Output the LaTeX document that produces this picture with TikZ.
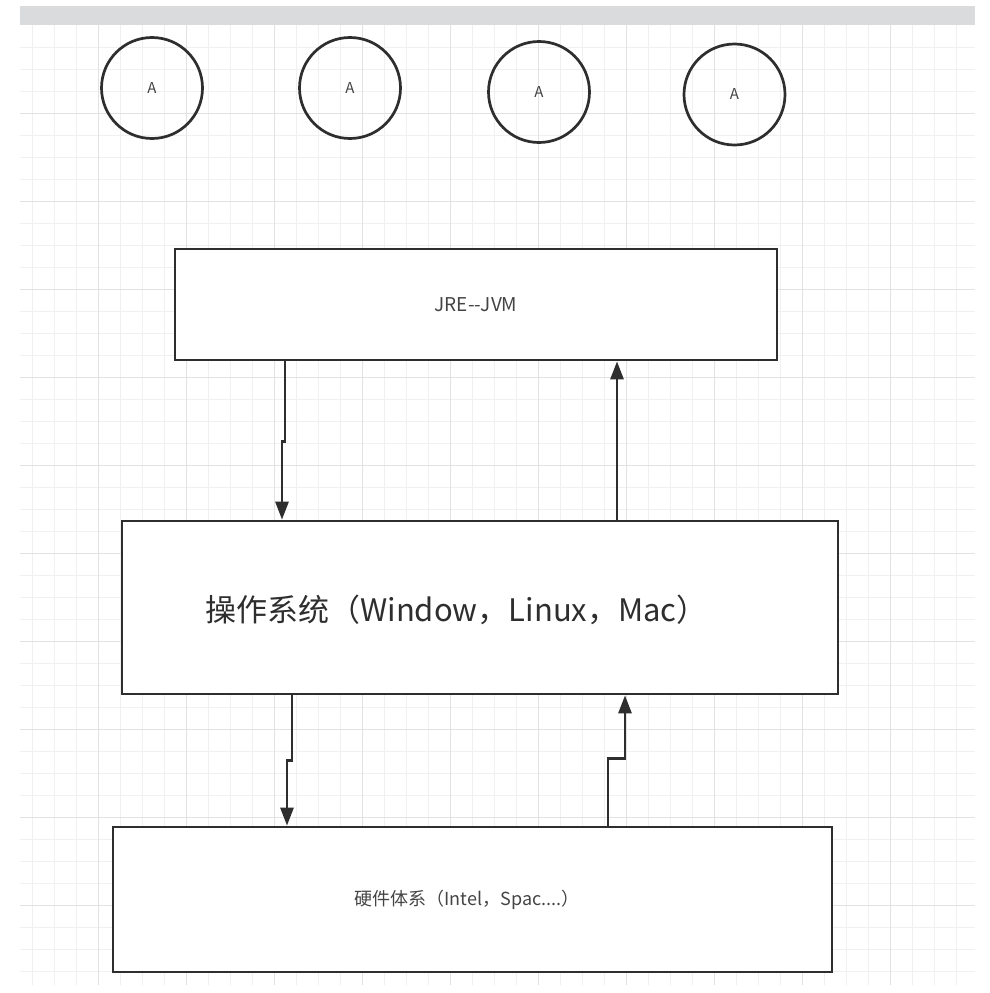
\documentclass[tikz,border=0pt]{standalone}
\usepackage{fontspec}
\setmainfont{Noto Sans CJK SC}
\usetikzlibrary{arrows.meta}
\definecolor{ink}{HTML}{2E2E2E}
\definecolor{txt}{HTML}{444444}
\definecolor{minorgrid}{HTML}{F0F0F0}
\definecolor{majorgrid}{HTML}{E2E2E2}
\definecolor{topbar}{HTML}{DADBDD}
\begin{document}
\begin{tikzpicture}[x=1pt,y=-1pt,
  circ/.style={circle,draw=ink,line width=2.7pt,minimum size=101pt,inner sep=0pt,text=txt,font=\fontsize{15}{18}\selectfont},
  box/.style={rectangle,draw=ink,line width=2.7pt,fill=white,inner sep=0pt},
  lbl/.style={text=txt,inner sep=0pt},
  arr/.style={draw=ink,line width=2.7pt,-{Triangle[length=18pt,width=13pt]}},
  minorline/.style={minorgrid,line width=0.9pt},
  majorline/.style={majorgrid,line width=1pt}]
\useasboundingbox (0,0) rectangle (990,993);
\fill[white] (0,0) rectangle (990,993);
% top bar
\fill[topbar] (20,6) rectangle (975,25);
% grid
\foreach \x in {32,54,...,966} \draw[minorline] (\x,25) -- (\x,985);
\foreach \y in {47,69,...,983} \draw[minorline] (20,\y) -- (975,\y);
\foreach \x in {98,186,...,890} \draw[majorline] (\x,25) -- (\x,985);
\foreach \y in {113,201,...,905} \draw[majorline] (20,\y) -- (975,\y);
% circles
\node[circ] (c1) at (152,88) {A};
\node[circ] (c2) at (350,88) {A};
\node[circ] (c3) at (539,92) {A};
\node[circ] (c4) at (734.5,94.5) {A};
% boxes
\node[box,minimum width=602pt,minimum height=111pt,text=txt,font=\fontsize{19}{22}\selectfont] (jre) at (476,304.5) {JRE-{}-JVM};
\node[box,minimum width=716pt,minimum height=173pt] (os) at (480,607.5) {};
\node[lbl,text=ink,font=\fontsize{31}{37}\selectfont] (ostxt) at (456.5,610) {操作系统（Window，Linux，Mac）};
\node[box,minimum width=719pt,minimum height=145pt] (hw) at (472.5,899.5) {};
\node[lbl,font=\fontsize{18}{21}\selectfont] (hwtxt) at (467,900) {硬件体系（Intel，Spac....）};
% helper x positions
\coordinate (xa) at (285,0);
\coordinate (xb) at (282,0);
\coordinate (xc) at (617,0);
\coordinate (xd) at (292,0);
\coordinate (xe) at (287,0);
\coordinate (xf) at (608,0);
\coordinate (xg) at (625,0);
% connectors
\draw[arr] (jre.south -| xa) -- ++(0,80) -| (os.north -| xb);
\draw[arr] (os.north -| xc) -- (jre.south -| xc);
\draw[arr] (os.south -| xd) -- ++(0,65) -| (hw.north -| xe);
\draw[arr] (hw.north -| xf) -- ++(0,-67) -| (os.south -| xg);
\end{tikzpicture}
\end{document}
